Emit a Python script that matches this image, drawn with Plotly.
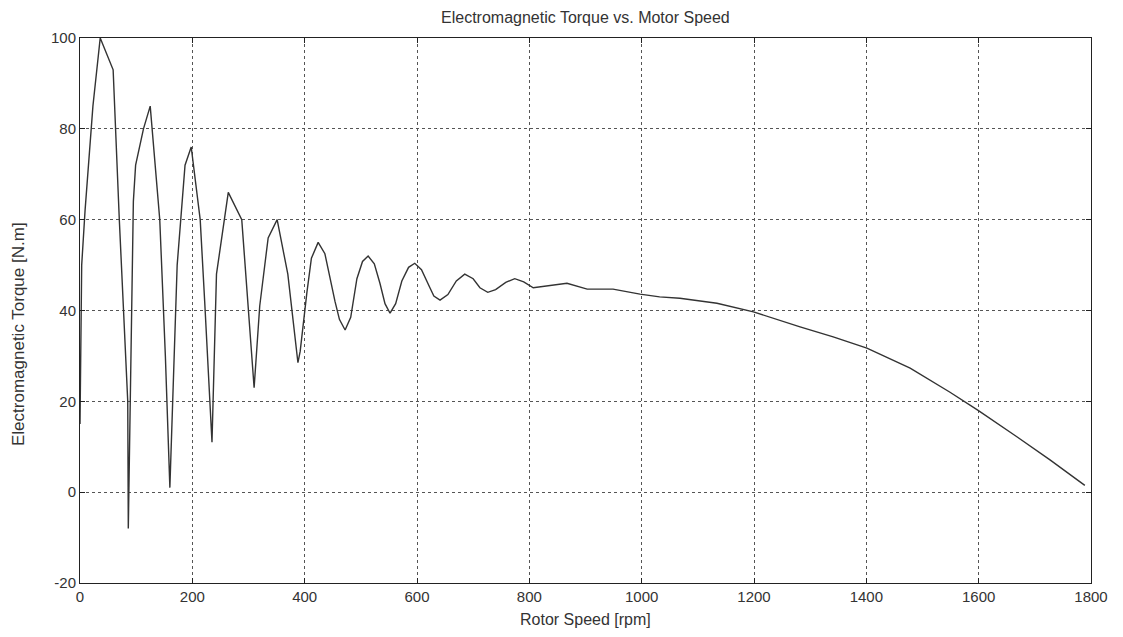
import plotly.graph_objects as go

rpm = [0, 3, 9, 23, 36, 59, 70, 77, 85, 86, 92, 95, 99, 113, 125,
       142, 152, 160, 173, 182, 187, 198, 214, 222, 235,
       243, 264, 288, 299, 310, 320, 335, 351, 370, 388, 392,
       404, 412, 424, 436, 454, 462, 472, 482, 493, 503, 513, 524, 534,
       543, 552, 562, 573, 585, 596, 608, 623, 630, 641, 655,
       670, 685, 700, 712, 726, 740, 758, 774, 790, 807, 867, 903, 949,
       997, 1032, 1068, 1134, 1199, 1282, 1341, 1401, 1478, 1549, 1599,
       1668, 1727, 1789]
torque = [15, 50, 62, 85, 100, 93, 60, 40, 20, -8, 40, 64, 72, 80, 85,
          60, 30, 1, 50, 64, 72, 76, 60, 42, 11,
          48, 66, 60, 42, 23, 41, 56, 60, 48, 28.5, 31,
          44, 51.5, 55, 52.5, 42, 38, 35.7, 38.5, 47, 50.8, 52, 50.3, 46,
          41.5, 39.4, 41.5, 46.5, 49.5, 50.4, 49, 45, 43.2, 42.3, 43.5,
          46.5, 48, 47, 45, 44, 44.6, 46.2, 47, 46.3, 45, 46, 44.7, 44.7,
          43.6, 43, 42.7, 41.6, 39.7, 36.4, 34.2, 31.7, 27.3, 22, 18,
          12.2, 7.1, 1.5]

x_ticks = [0, 200, 400, 600, 800, 1000, 1200, 1400, 1600, 1800]
y_ticks = [-20, 0, 20, 40, 60, 80, 100]
y_tick_text = ["-20", "0", "20", "40", "60", "80", "100"]

FONT = "Liberation Sans, Arial, sans-serif"
TXT = "#333333"

fig = go.Figure()
fig.add_trace(go.Scatter(x=rpm, y=torque, mode="lines",
                         line=dict(color="#333333", width=1.4),
                         showlegend=False))

axis_common = dict(showline=True, linecolor="#222", linewidth=1, mirror="ticks",
                   ticks="inside", ticklen=5, tickcolor="#222",
                   showgrid=True, gridcolor="#555", griddash="dot", gridwidth=1,
                   zeroline=False, tickfont=dict(family=FONT, size=15, color=TXT))

fig.update_xaxes(range=[0, 1800], tickvals=x_ticks, **axis_common)
fig.update_yaxes(range=[-20, 100], tickvals=y_ticks, ticktext=y_tick_text, **axis_common)

fig.update_layout(
    width=1112, height=621,
    margin=dict(l=72, r=24, t=30, b=46),
    paper_bgcolor="white", plot_bgcolor="white",
    font=dict(family=FONT, color=TXT),
    annotations=[
        dict(text="Electromagnetic Torque vs. Motor Speed", x=0.5, y=1.0,
             xref="paper", yref="paper", xanchor="center", yanchor="bottom",
             yshift=10, showarrow=False, font=dict(family=FONT, size=16, color=TXT)),
        dict(text="Rotor Speed [rpm]", x=0.5, y=0, xref="paper", yref="paper",
             xanchor="center", yanchor="top", yshift=-26, showarrow=False,
             font=dict(family=FONT, size=16, color=TXT)),
        dict(text="Electromagnetic Torque [N.m]", x=0, y=0.5, xref="paper", yref="paper",
             xanchor="right", yanchor="middle", xshift=-50, yshift=-24, textangle=-90,
             showarrow=False, font=dict(family=FONT, size=17, color=TXT)),
    ],
)

fig.write_html("out.html")
